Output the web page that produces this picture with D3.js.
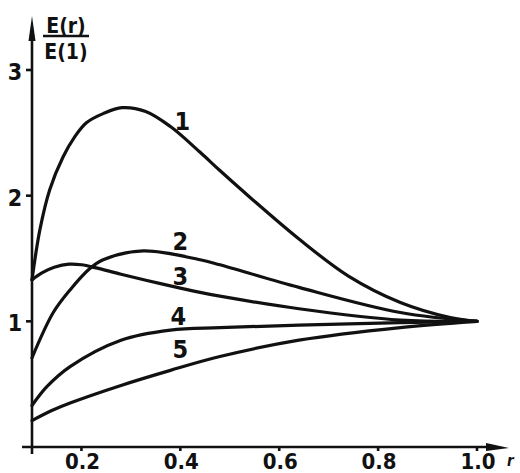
<!DOCTYPE html>
<html>
<head>
<meta charset="utf-8">
<script src="https://cdn.jsdelivr.net/npm/d3@7"></script>
<style>
  body { margin: 0; background: #fff; }
  text { font-family: "DejaVu Sans Condensed", "DejaVu Sans", sans-serif; fill: #111; font-weight: bold; }
  .curve { fill: none; stroke: #111; stroke-width: 3.2; stroke-linecap: round; }
  .axis { stroke: #111; stroke-width: 2.6; }
</style>
</head>
<body>
<div id="vis"></div>
<script>
// values (r, E(r)/E(1))
const r1 = [0.1, 0.116, 0.136, 0.163, 0.185, 0.21, 0.245, 0.282, 0.33, 0.38, 0.44, 0.48, 0.54, 0.64, 0.74, 0.845, 0.946, 1.0];
const v1 = [1.33, 1.73, 2.05, 2.31, 2.46, 2.58, 2.655, 2.70, 2.67, 2.55, 2.345, 2.20, 1.99, 1.655, 1.36, 1.15, 1.03, 1.0];
const r2 = [0.1, 0.143, 0.177, 0.217, 0.244, 0.325, 0.44, 0.48, 0.64, 0.845, 1.0];
const v2 = [0.71, 1.07, 1.25, 1.42, 1.49, 1.56, 1.49, 1.45, 1.27, 1.07, 1.0];
const r3 = [0.1, 0.12, 0.145, 0.175, 0.2, 0.23, 0.28, 0.36, 0.44, 0.48, 0.64, 0.845, 1.0];
const v3 = [1.33, 1.385, 1.43, 1.455, 1.45, 1.425, 1.375, 1.30, 1.23, 1.20, 1.10, 1.01, 1.0];
const r4 = [0.1, 0.13, 0.177, 0.28, 0.38, 0.48, 0.64, 0.845, 1.0];
const v4 = [0.33, 0.48, 0.64, 0.85, 0.93, 0.95, 0.97, 0.99, 1.0];
const r5 = [0.1, 0.14, 0.177, 0.28, 0.38, 0.48, 0.64, 0.845, 1.0];
const v5 = [0.21, 0.29, 0.35, 0.49, 0.61, 0.72, 0.85, 0.95, 1.0];

const curveNames = ["1", "2", "3", "4", "5"];
const labelAt = [[0.404, 2.52], [0.40, 1.57], [0.40, 1.29], [0.396, 0.97], [0.40, 0.71]];
const xTicks = [0.2, 0.4, 0.6, 0.8, 1.0];
const xTickLabels = ["0.2", "0.4", "0.6", "0.8", "1.0"];
const yTicks = [1, 2, 3];

const WIDTH = 520;
const HEIGHT = 473;

const svg = d3.select('#vis')
  .append('svg')
  .attr('width', WIDTH)
  .attr('height', HEIGHT);

const X = d3.scaleLinear().domain([0.1, 1.0]).range([32, 477]);
const Y = d3.scaleLinear().domain([0, 3]).range([447, 70]);

// axes with arrows
svg.append('line').attr('class', 'axis')
  .attr('x1', X(0.1)).attr('x2', X(0.1))
  .attr('y1', Y(0) + 7).attr('y2', 32);
svg.append('path')
  .attr('d', 'M' + X(0.1) + ',16 L' + (X(0.1) - 3.5) + ',41 L' + (X(0.1) + 3.5) + ',41 Z')
  .attr('fill', '#111');

svg.append('line').attr('class', 'axis')
  .attr('x1', 22).attr('x2', 492)
  .attr('y1', Y(0)).attr('y2', Y(0));
svg.append('path')
  .attr('d', 'M509,' + (Y(0) + 1) + ' L486,' + (Y(0) - 4) + ' L486,' + (Y(0) + 4) + ' Z')
  .attr('fill', '#111');

// y ticks
svg.selectAll('.ytick')
  .data(yTicks)
  .enter()
  .append('line')
    .attr('class', 'axis')
    .attr('x1', X(0.1) - 6).attr('x2', X(0.1))
    .attr('y1', d => Y(d)).attr('y2', d => Y(d));

svg.selectAll('.ylab')
  .data(yTicks)
  .enter()
  .append('text')
    .attr('x', 15)
    .attr('y', d => Y(d) + 10)
    .attr('text-anchor', 'middle')
    .attr('font-size', 23)
    .text(d => d);

// x ticks
svg.selectAll('.xtick')
  .data(xTicks)
  .enter()
  .append('line')
    .attr('class', 'axis')
    .attr('x1', d => X(d)).attr('x2', d => X(d))
    .attr('y1', Y(0)).attr('y2', Y(0) + 4);

svg.selectAll('.xlab')
  .data(xTicks)
  .enter()
  .append('text')
    .attr('x', d => X(d) + 1)
    .attr('y', 469)
    .attr('text-anchor', 'middle')
    .attr('font-size', 22)
    .text((d, i) => xTickLabels[i]);

svg.append('text')
  .attr('x', 507).attr('y', 466)
  .attr('font-size', 15)
  .attr('font-style', 'italic')
  .text('r');

// y axis title as a fraction
svg.append('text')
  .attr('x', 66).attr('y', 33)
  .attr('text-anchor', 'middle')
  .attr('font-size', 21)
  .text('E(r)');
svg.append('line')
  .attr('x1', 43).attr('x2', 89)
  .attr('y1', 36).attr('y2', 36)
  .attr('stroke', '#111').attr('stroke-width', 2.4);
svg.append('text')
  .attr('x', 66).attr('y', 59)
  .attr('text-anchor', 'middle')
  .attr('font-size', 21)
  .text('E(1)');

// curves
const series = [[r1, v1], [r2, v2], [r3, v3], [r4, v4], [r5, v5]];
const line = d3.line()
  .x(d => X(d[0]))
  .y(d => Y(d[1]))
  .curve(d3.curveCatmullRom.alpha(0.5));

svg.selectAll('.curve')
  .data(series)
  .enter()
  .append('path')
    .attr('class', 'curve')
    .attr('d', s => line(d3.zip(s[0], s[1])));

svg.selectAll('.clab')
  .data(curveNames)
  .enter()
  .append('text')
    .attr('x', (d, i) => X(labelAt[i][0]))
    .attr('y', (d, i) => Y(labelAt[i][1]))
    .attr('text-anchor', 'middle')
    .attr('font-size', 25)
    .text(d => d);
</script>
</body>
</html>
